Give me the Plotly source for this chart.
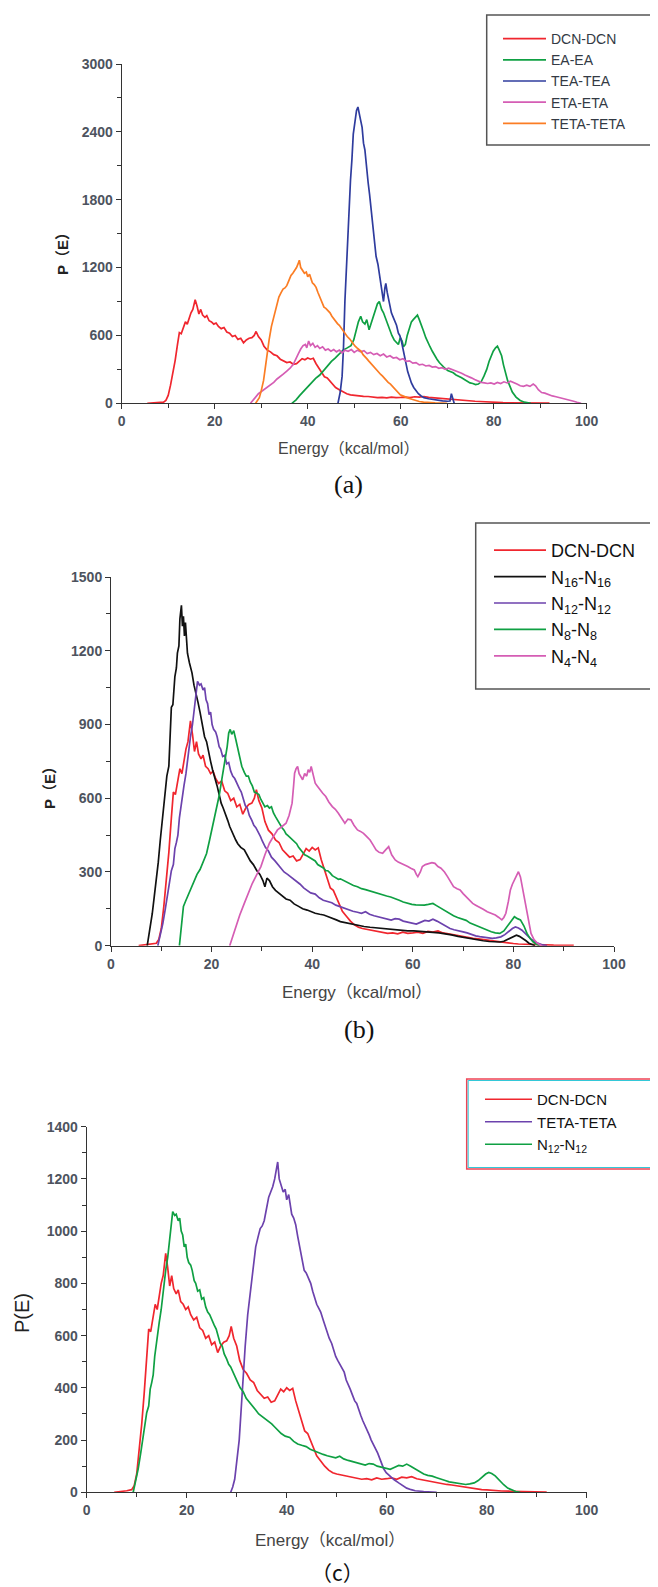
import plotly.graph_objects as go

# The page body keeps its default 8px margin, so the figure is placed at (8, 8)
OFF = 8
FW, FH = 658 - OFF, 1587 - OFF
def px(x): return (x - OFF) / FW
def py(y): return 1 - (y - OFF) / FH

SANS = "Liberation Sans, Arial, Noto Sans CJK SC, sans-serif"
SERIF = "Liberation Serif, Times New Roman, Noto Serif CJK SC, serif"
CJK = "Noto Sans CJK SC, sans-serif"

# ---------------- data (Energy in kcal/mol, P(E) counts) ----------------
DCN_E = [5.5, 7.0, 8.0, 9.0, 9.5, 10.0, 10.5, 11.0, 11.5, 12.0, 12.4, 12.8, 13.2, 13.7, 14.1, 14.5, 14.9, 15.3, 15.8, 16.2,
         16.6, 17.0, 17.4, 17.9, 18.3, 18.8, 19.3, 19.8, 20.3, 20.8, 21.4, 22.0, 22.6, 23.2, 23.8, 24.4, 25.0, 25.6, 26.2, 26.8,
         27.4, 28.0, 28.5, 28.9, 29.4, 30.0, 30.6, 31.3, 32.0, 32.7, 33.4, 34.1, 34.8, 35.5, 36.2, 36.9, 37.6, 38.2, 38.8, 39.4,
         40.0, 40.6, 41.2, 41.8, 42.4, 43.0, 43.6, 44.2, 44.8, 45.4, 46.0, 46.8, 47.6, 48.4, 49.2, 50.0, 51.0, 52.0, 53.0, 54.0,
         55.0, 56.0, 57.0, 58.0, 59.0, 60.0, 61.0, 62.0, 63.0, 64.0, 65.0, 66.0, 67.0, 68.0, 69.0, 70.0, 71.0, 72.0, 73.0, 74.0,
         75.0, 76.0, 77.0, 78.0, 79.0, 80.0, 81.0, 82.0, 83.0, 85.0, 88.0, 92.0]
DCN_P = [0, 3, 6, 10, 25, 70, 160, 260, 380, 520, 625, 615, 660, 720, 700, 760, 800, 830, 915, 860,
         790, 830, 780, 760, 775, 730, 720, 700, 710, 680, 660, 670, 630, 620, 590, 600, 565, 575, 535, 560,
         575, 580, 600, 635, 590, 560, 505, 470, 455, 430, 420, 390, 375, 360, 365, 345, 350, 370, 395, 385,
         400, 390, 398, 350, 310, 270, 235, 225, 195, 165, 140, 120, 100, 85, 75, 70, 66, 62, 60, 55,
         50, 52, 48, 55, 50, 52, 55, 50, 58, 55, 60, 52, 48, 45, 40, 38, 33, 30, 28, 25,
         22, 18, 16, 13, 10, 9, 7, 6, 5, 4, 2, 1]

N12_E = [9.3, 9.8, 10.3, 10.8, 11.2, 11.6, 12.0, 12.4, 12.7, 13.0, 13.3, 13.6, 13.9, 14.2, 14.5, 14.9, 15.2, 15.5, 15.8, 16.2,
         16.6, 16.9, 17.2, 17.6, 17.9, 18.3, 18.6, 18.9, 19.2, 19.5, 19.8, 20.1, 20.4, 20.8, 21.1, 21.5, 21.8, 22.2, 22.6, 23.0,
         23.4, 23.8, 24.2, 24.6, 25.0, 25.5, 25.9, 26.3, 26.7, 27.1, 27.5, 28.0, 28.4, 28.8, 29.2, 29.7, 30.1, 30.7, 31.3, 31.9,
         32.6, 33.2, 33.8, 34.4, 35.1, 35.7, 36.4, 37.0, 37.6, 38.3, 38.9, 39.7, 40.6, 41.4, 42.2, 43.0, 43.9, 44.7, 45.6, 46.4,
         47.3, 48.1, 49.0, 49.8, 50.6, 51.4, 52.3, 53.1, 54.0, 54.8, 55.7, 56.5, 57.3, 58.1, 59.0, 59.8, 60.7, 61.5, 62.4, 63.2,
         64.0, 64.8, 65.7, 66.5, 67.4, 68.2, 69.1, 70.0, 70.8, 71.7, 72.5, 73.3, 74.1, 75.0, 75.8, 76.6, 77.5, 78.3, 79.2, 79.8,
         80.4, 81.0, 81.7, 82.5, 83.4, 84.2, 85.0, 85.8, 86.7]
N12_P = [0, 40, 90, 150, 200, 250, 305, 330, 395, 420, 450, 520, 570, 600, 650, 700, 755, 800, 850, 900,
         970, 1000, 1075, 1060, 1065, 1040, 1050, 1000, 985, 940, 950, 900, 880, 870, 850, 810, 800, 770, 775, 740,
         745, 710, 690, 680, 660, 640, 625, 600, 570, 560, 530, 510, 490, 480, 465, 445, 425, 400, 385, 360,
         345, 330, 315, 300, 290, 280, 270, 262, 250, 235, 225, 215, 210, 195, 185, 180, 175, 165, 158, 150,
         145, 140, 136, 132, 138, 128, 122, 118, 115, 110, 104, 110, 108, 100, 96, 92, 88, 95, 103, 100,
         108, 100, 90, 78, 70, 65, 62, 56, 52, 45, 40, 37, 35, 32, 30, 32, 36, 45, 62, 70,
         76, 72, 63, 45, 29, 16, 9, 3, 0]

TETA_E = [28.8, 29.2, 29.6, 30.0, 30.5, 30.9, 31.3, 31.7, 32.2, 32.6, 33.0, 33.4, 33.8, 34.3, 34.7, 35.1, 35.5, 35.9, 36.4, 36.8,
          37.2, 37.6, 37.9, 38.2, 38.5, 38.9, 39.3, 39.7, 40.0, 40.4, 40.7, 41.0, 41.4, 41.8, 42.2, 42.7, 43.1, 43.5, 43.9, 44.3,
          44.8, 45.2, 45.6, 46.0, 46.4, 46.8, 47.3, 47.7, 48.1, 48.5, 49.0, 49.4, 49.8, 50.2, 50.6, 51.1, 51.5, 51.9, 52.3, 52.7,
          53.1, 53.6, 54.0, 54.4, 54.8, 55.2, 55.7, 56.1, 56.5, 56.9, 57.3, 57.8, 58.2, 58.6, 59.0, 59.4, 59.9, 60.3, 60.7, 61.5,
          62.4, 63.2, 64.0, 64.9, 65.7, 67.4, 69.1, 70.0]
TETA_P = [0, 20, 50, 110, 200, 320, 460, 560, 680, 740, 800, 860, 940, 980, 1010, 1020, 1040, 1080, 1130, 1150,
          1170, 1200, 1230, 1265, 1200, 1170, 1150, 1160, 1120, 1140, 1090, 1065, 1050, 1025, 980, 930, 880, 850, 840, 825,
          800, 770, 745, 720, 705, 690, 660, 637, 610, 590, 570, 545, 520, 505, 490, 470, 460, 430, 415, 395,
          375, 350, 340, 315, 295, 275, 255, 240, 220, 200, 185, 170, 150, 130, 110, 90, 75, 68, 60, 48,
          36, 25, 16, 10, 6, 3, 1, 0]

TEA_E = [46.5, 47.0, 47.4, 47.7, 48.0, 48.3, 48.6, 48.9, 49.2, 49.5, 49.8, 50.2, 50.5, 50.8, 51.1, 51.4, 51.7, 52.0, 52.3, 52.6,
         53.0, 53.3, 53.7, 54.0, 54.4, 54.7, 55.1, 55.4, 55.7, 56.0, 56.3, 56.6, 56.8, 57.1, 57.4, 57.7, 58.0, 58.4, 58.7, 59.1,
         59.5, 59.8, 60.1, 60.4, 60.7, 61.1, 61.5, 61.9, 62.3, 62.8, 63.3, 63.8, 64.4, 65.0, 66.0, 67.0, 68.0, 69.0, 70.0, 70.6,
         70.9, 71.2, 71.5]
TEA_P = [0, 100, 240, 500, 900, 1200, 1500, 1750, 1970, 2150, 2380, 2500, 2590, 2620, 2570, 2500, 2440, 2300, 2240, 2100,
         1950, 1850, 1680, 1560, 1390, 1300, 1230, 1150, 1090, 980, 900, 1020, 1060, 980, 920, 850, 800, 760, 730, 690,
         620, 600, 560, 500, 420, 340, 280, 230, 180, 140, 110, 85, 65, 50, 40, 32, 28, 22, 18, 20,
         85, 40, 0]

EA_E = [36.6, 37.5, 38.3, 39.2, 40.0, 40.9, 41.7, 42.6, 43.4, 44.2, 45.1, 45.9, 46.8, 47.6, 48.5, 49.3, 49.9, 50.4, 50.9, 51.4,
        51.8, 52.3, 52.7, 53.2, 53.6, 54.1, 54.5, 55.0, 55.4, 55.9, 56.3, 56.8, 57.2, 57.7, 58.1, 58.6, 59.0, 59.5, 59.9, 60.3,
        60.6, 61.0, 61.4, 61.8, 62.3, 62.7, 63.2, 63.6, 64.0, 64.5, 64.9, 65.4, 65.8, 66.3, 66.8, 67.3, 67.8, 68.3, 68.9, 69.5,
        70.1, 70.7, 71.3, 71.9, 72.5, 73.1, 73.7, 74.3, 74.9, 75.5, 76.1, 76.7, 77.3, 77.9, 78.5, 79.0, 79.5, 79.9, 80.4, 80.8,
        81.2, 81.7, 82.1, 82.6, 83.0, 83.5, 84.0, 84.8, 85.7, 86.6, 88.0]
EA_P = [0, 30, 70, 110, 150, 185, 220, 250, 290, 330, 370, 400, 440, 470, 490, 510, 560, 650, 720, 770,
        720, 700, 740, 650, 700, 760, 820, 880, 900, 830, 800, 740, 700, 640, 600, 560, 540, 520, 580, 550,
        500, 520, 600, 660, 720, 740, 760, 780, 740, 690, 640, 580, 540, 500, 460, 420, 390, 360, 330, 310,
        290, 280, 270, 250, 240, 225, 210, 195, 180, 175, 165, 170, 190, 240, 300, 370, 420, 460, 490, 505,
        470, 420, 340, 260, 200, 150, 100, 55, 25, 10, 0]

ETA_E = [27.7, 28.3, 28.8, 29.4, 29.9, 30.6, 31.3, 32.0, 32.7, 33.4, 34.1, 34.8, 35.5, 36.2, 36.9, 37.5, 38.0, 38.5, 39.0, 39.5,
         39.8, 40.2, 40.6, 41.1, 41.6, 42.1, 42.6, 43.2, 43.8, 44.4, 45.0, 45.6, 46.2, 46.8, 47.4, 48.0, 48.7, 49.4, 50.0, 50.7,
         51.4, 52.1, 52.8, 53.5, 54.2, 54.9, 55.6, 56.3, 57.0, 57.7, 58.4, 59.1, 59.8, 60.5, 61.2, 61.9, 62.6, 63.3, 64.0, 64.7,
         65.4, 66.1, 66.8, 67.5, 68.2, 68.9, 69.6, 70.3, 71.0, 71.7, 72.4, 73.1, 73.8, 74.5, 75.2, 75.9, 76.6, 77.3, 78.0, 78.7,
         79.4, 80.1, 80.8, 81.5, 82.2, 82.9, 83.6, 84.3, 85.0, 85.7, 86.4, 87.1, 87.8, 88.5, 89.0, 89.6, 90.3, 91.0, 91.8, 92.6,
         93.4, 94.2, 95.0, 95.7, 96.5, 97.2, 97.9, 98.8]
ETA_P = [0, 30, 60, 85, 100, 120, 140, 165, 185, 215, 235, 260, 285, 310, 345, 390, 440, 480, 510, 520,
         490, 550, 510, 530, 495, 510, 485, 500, 470, 480, 460, 475, 455, 470, 445, 470, 460, 475, 450, 470,
         455, 465, 440, 450, 430, 440, 420, 435, 410, 420, 400, 405, 385, 395, 370, 375, 355, 360, 340, 345,
         330, 335, 320, 325, 310, 315, 300, 310, 300, 290, 280, 265, 250, 240, 225, 210, 195, 185, 180, 175,
         180, 170, 185, 175, 190, 180, 195, 185, 170, 155, 150, 160, 150, 170, 155, 120, 95, 90, 75, 65,
         58, 50, 45, 38, 28, 18, 9, 0]

N16_E = [7.2, 7.7, 8.2, 8.6, 9.0, 9.4, 9.8, 10.2, 10.7, 11.1, 11.5, 11.8, 12.0, 12.3, 12.7, 13.0, 13.2, 13.5, 13.7, 14.0,
         14.2, 14.4, 14.6, 14.8, 15.0, 15.2, 15.6, 16.1, 16.5, 16.9, 17.3, 17.7, 18.2, 18.6, 19.0, 19.4, 19.8, 20.2, 20.6, 21.1,
         21.5, 21.9, 22.3, 22.7, 23.2, 23.6, 24.0, 24.4, 24.8, 25.2, 25.8, 26.5, 27.1, 27.7, 28.3, 29.0, 29.6, 30.2, 30.6, 31.0,
         31.5, 32.1, 32.7, 33.3, 34.0, 34.8, 35.6, 36.4, 37.3, 38.1, 39.0, 39.8, 40.6, 41.5, 42.3, 43.2, 44.0, 44.8, 45.6, 46.5,
         47.3, 48.2, 49.0, 50.3, 51.5, 52.8, 54.0, 55.3, 56.5, 57.8, 59.0, 60.2, 61.4, 62.7, 64.0, 65.2, 66.4, 67.7, 69.0, 70.2,
         71.4, 72.7, 74.0, 75.2, 76.4, 77.3, 78.1, 79.0, 79.8, 80.6, 81.2, 81.9, 82.5, 83.1, 83.7, 84.3]
N16_P = [0, 60, 130, 200, 265, 340, 430, 510, 605, 690, 730, 850, 970, 980, 1095, 1130, 1190, 1220, 1330, 1385,
         1300, 1340, 1260, 1315, 1240, 1190, 1150, 1110, 1060, 1030, 990, 950, 900, 850, 830, 785, 750, 715, 690, 650,
         615, 580, 560, 540, 510, 485, 465, 445, 430, 415, 400, 390, 365, 345, 330, 305, 290, 265, 240, 275,
         265, 240, 225, 215, 200, 190, 185, 170, 160, 150, 145, 138, 132, 128, 125, 118, 110, 105, 98, 94,
         90, 85, 82, 78, 75, 72, 70, 66, 63, 62, 60, 60, 59, 56, 54, 52, 49, 44, 38, 33,
         29, 24, 20, 17, 15, 15, 18, 28, 37, 43, 38, 30, 20, 10, 4, 0]

N8_E = [13.6, 14.0, 14.4, 14.8, 15.2, 15.8, 16.5, 17.1, 17.7, 18.3, 19.0, 19.6, 20.2, 20.6, 21.1, 21.5, 21.9, 22.3, 22.7, 23.1,
        23.4, 23.7, 24.0, 24.4, 24.8, 25.2, 25.6, 26.0, 26.5, 26.9, 27.3, 27.7, 28.1, 28.5, 29.0, 29.4, 29.8, 30.2, 30.6, 31.1,
        31.5, 31.9, 32.3, 32.7, 33.1, 33.6, 34.0, 34.4, 34.8, 35.2, 35.6, 36.1, 36.5, 36.9, 37.3, 37.7, 38.1, 38.5, 39.0, 39.4,
        39.8, 40.2, 40.6, 41.1, 41.5, 41.9, 42.3, 42.7, 43.1, 43.6, 44.0, 44.4, 44.8, 45.2, 45.6, 46.5, 47.3, 48.2, 49.0, 49.8,
        50.6, 51.5, 52.3, 53.1, 54.0, 54.8, 55.6, 56.5, 57.3, 58.1, 59.0, 59.8, 60.6, 61.5, 62.3, 63.1, 64.0, 64.8, 65.6, 66.5,
        67.3, 68.1, 68.9, 69.8, 70.6, 71.4, 72.3, 73.1, 73.9, 74.8, 75.6, 76.4, 77.3, 78.1, 79.0, 79.6, 80.2, 80.8, 81.4, 82.1,
        82.7, 83.3, 83.9, 84.5, 85.2]
N8_P = [0, 80, 160, 180, 200, 230, 265, 290, 310, 340, 375, 430, 485, 525, 565, 610, 660, 705, 755, 810,
        865, 880, 860, 875, 840, 800, 760, 730, 705, 690, 690, 665, 650, 625, 620, 615, 595, 580, 565, 570,
        560, 565, 540, 525, 510, 490, 480, 470, 455, 448, 440, 430, 425, 415, 400, 390, 380, 370, 365, 360,
        355, 350, 345, 330, 325, 320, 315, 305, 305, 295, 285, 280, 275, 270, 272, 262, 253, 245, 240, 232,
        228, 222, 218, 212, 206, 202, 198, 192, 185, 178, 172, 168, 166, 165, 165, 168, 172, 162, 152, 140,
        132, 122, 115, 108, 103, 92, 84, 76, 70, 62, 57, 52, 50, 60, 84, 100, 118, 110, 105, 80,
        50, 30, 16, 7, 0]

N4_E = [23.6, 24.2, 24.8, 25.6, 26.5, 27.3, 28.1, 29.0, 29.8, 30.6, 31.5, 32.3, 33.1, 34.0, 34.8, 35.4, 36.0, 36.3, 36.5, 36.8,
        37.1, 37.4, 37.7, 38.1, 38.5, 38.9, 39.2, 39.5, 39.8, 40.2, 40.6, 41.0, 41.5, 42.1, 42.7, 43.3, 44.0, 44.6, 45.2, 45.8,
        46.5, 47.1, 47.7, 48.3, 49.0, 49.6, 50.2, 50.8, 51.5, 52.1, 52.7, 53.3, 54.0, 54.6, 55.2, 55.8, 56.5, 57.1, 57.7, 58.3,
        59.0, 59.6, 60.3, 60.7, 61.0, 61.5, 61.9, 62.5, 63.1, 63.8, 64.4, 65.0, 65.6, 66.3, 66.9, 67.5, 68.1, 68.8, 69.4, 70.0,
        70.6, 71.3, 71.9, 72.5, 73.1, 74.0, 74.8, 75.6, 76.4, 77.1, 77.7, 78.1, 78.5, 79.0, 79.4, 79.8, 80.2, 80.6, 81.0, 81.4,
        81.9, 82.3, 82.7, 83.1, 83.5, 84.1, 84.8, 85.6]
N4_P = [0, 40, 77, 125, 172, 215, 254, 290, 322, 370, 417, 445, 471, 485, 498, 530, 580, 650, 702, 720,
        729, 700, 690, 675, 700, 690, 716, 705, 729, 690, 661, 650, 634, 620, 607, 585, 566, 555, 539, 520,
        498, 515, 512, 490, 471, 465, 457, 445, 430, 410, 390, 380, 376, 390, 403, 370, 349, 340, 335, 330,
        322, 315, 308, 290, 281, 300, 322, 330, 335, 338, 335, 322, 315, 300, 281, 260, 240, 232, 227, 212,
        200, 185, 172, 165, 159, 148, 138, 132, 125, 115, 105, 115, 132, 180, 227, 250, 267, 285, 301, 280,
        227, 180, 132, 90, 50, 25, 10, 0]

NAMES_A = ["DCN-DCN", "EA-EA", "TEA-TEA", "ETA-ETA", "TETA-TETA"]
NAMES_B = ["DCN-DCN", "N<sub>16</sub>-N<sub>16</sub>", "N<sub>12</sub>-N<sub>12</sub>",
           "N<sub>8</sub>-N<sub>8</sub>", "N<sub>4</sub>-N<sub>4</sub>"]
NAMES_C = ["DCN-DCN", "TETA-TETA", "N<sub>12</sub>-N<sub>12</sub>"]

XTICKS = [0, 20, 40, 60, 80, 100]
YTICKS_A = [0, 600, 1200, 1800, 2400, 3000]
YTICKS_B = [0, 300, 600, 900, 1200, 1500]
YTICKS_C = [0, 200, 400, 600, 800, 1000, 1200, 1400]

RED = "#f0262e"
GREEN = "#0fa043"
BLUE = "#2f3c9e"
PINK = "#d55db4"
ORANGE = "#fb7d24"
BLACK = "#111111"
PURPLE = "#6c42ad"

fig = go.Figure()

def add(x, y, name, color, xa, ya, leg):
    fig.add_trace(go.Scatter(x=x, y=y, mode="lines", name=name,
                             line=dict(color=color, width=1.7),
                             xaxis=xa, yaxis=ya, legend=leg))

# panel (a)
add(DCN_E, DCN_P, NAMES_A[0], RED, "x", "y", "legend")
add(EA_E, EA_P, NAMES_A[1], GREEN, "x", "y", "legend")
add(TEA_E, TEA_P, NAMES_A[2], BLUE, "x", "y", "legend")
add(ETA_E, ETA_P, NAMES_A[3], PINK, "x", "y", "legend")
add(TETA_E, TETA_P, NAMES_A[4], ORANGE, "x", "y", "legend")
# panel (b)
add(DCN_E, DCN_P, NAMES_B[0], RED, "x2", "y2", "legend2")
add(N16_E, N16_P, NAMES_B[1], BLACK, "x2", "y2", "legend2")
add(N12_E, N12_P, NAMES_B[2], PURPLE, "x2", "y2", "legend2")
add(N8_E, N8_P, NAMES_B[3], GREEN, "x2", "y2", "legend2")
add(N4_E, N4_P, NAMES_B[4], PINK, "x2", "y2", "legend2")
# panel (c)
add(DCN_E, DCN_P, NAMES_C[0], RED, "x3", "y3", "legend3")
add(TETA_E, TETA_P, NAMES_C[1], PURPLE, "x3", "y3", "legend3")
add(N12_E, N12_P, NAMES_C[2], GREEN, "x3", "y3", "legend3")

AX = "#333333"
TICKFONT = dict(family=SANS, size=14, color="#4d535e", weight="bold")

def xaxis(x0, x1, anchor):
    return dict(domain=[px(x0), px(x1)], anchor=anchor, range=[0, 100],
                tickmode="array", tickvals=XTICKS, ticktext=[str(v) for v in XTICKS],
                ticks="outside", ticklen=5, tickwidth=1, tickcolor=AX,
                minor=dict(tickmode="array", tickvals=[10, 30, 50, 70, 90], ticks="outside",
                           ticklen=4, tickcolor=AX, showgrid=False),
                showline=True, linecolor=AX, linewidth=1, showgrid=False, zeroline=False,
                tickfont=TICKFONT, fixedrange=True, automargin=False)

def yaxis(y_top, y_bot, anchor, ticks, step):
    minors = [t + step / 2 for t in ticks[:-1]]
    return dict(domain=[py(y_bot), py(y_top)], anchor=anchor, range=[0, ticks[-1]],
                tickmode="array", tickvals=ticks, ticktext=[str(v) for v in ticks],
                ticks="outside", ticklen=5, tickwidth=1, tickcolor=AX,
                minor=dict(tickmode="array", tickvals=minors, ticks="outside",
                           ticklen=4, tickcolor=AX, showgrid=False),
                showline=True, linecolor=AX, linewidth=1, showgrid=False, zeroline=False,
                tickfont=TICKFONT, fixedrange=True, automargin=False)

legend_common = dict(bgcolor="rgba(0,0,0,0)", borderwidth=0, xanchor="left", yanchor="top",
                     tracegroupgap=0, itemclick=False)

fig.update_layout(
    width=FW, height=FH, margin=dict(l=0, r=0, t=0, b=0, autoexpand=False),
    paper_bgcolor="white", plot_bgcolor="white", showlegend=True,
    xaxis=xaxis(121.7, 586.7, "y"),
    yaxis=yaxis(64, 403.3, "x", YTICKS_A, 600),
    xaxis2=xaxis(111, 614, "y2"),
    yaxis2=yaxis(577, 945.7, "x2", YTICKS_B, 300),
    xaxis3=xaxis(86.7, 586.7, "y3"),
    yaxis3=yaxis(1126.7, 1492.3, "x3", YTICKS_C, 200),
    legend=dict(x=px(498), y=py(23), itemwidth=43,
                font=dict(family=SANS, size=14, color="#333a44"), **legend_common),
    legend2=dict(x=px(489), y=py(532), itemwidth=52,
                 font=dict(family=SANS, size=18, color="#111"), **legend_common),
    legend3=dict(x=px(480), y=py(1083), itemwidth=47,
                 font=dict(family=SANS, size=15, color="#111"), **legend_common),
)

# legend frames
fig.add_shape(type="rect", xref="paper", yref="paper", x0=px(486.7), x1=px(662), y0=py(145), y1=py(15),
              line=dict(color="#555", width=1.5))
fig.add_shape(type="rect", xref="paper", yref="paper", x0=px(475.7), x1=px(662), y0=py(689), y1=py(523),
              line=dict(color="#555", width=1.5))
fig.add_shape(type="rect", xref="paper", yref="paper", x0=px(466.7), x1=px(653), y0=py(1169), y1=py(1079),
              line=dict(color="#ee4455", width=1.5))
fig.add_shape(type="rect", xref="paper", yref="paper", x0=px(468.2), x1=px(651.5), y0=py(1167.5), y1=py(1080.5),
              line=dict(color="#33c8d8", width=1))

def note(x, y, text, size, family=SANS, color="#444", bold=False, angle=0):
    fig.add_annotation(xref="paper", yref="paper", x=px(x), y=py(y), text=text, showarrow=False,
                       xanchor="center", yanchor="middle", textangle=angle,
                       font=dict(family=family, size=size, color=color, weight="bold" if bold else "normal"))

# axis titles
note(348, 448, "Energy（kcal/mol）", 16)
note(357, 993, "Energy（kcal/mol）", 17)
note(330, 1540, "Energy（kcal/mol）", 17)
note(62, 250, "P（E）", 15, color="#222", bold=True, angle=-90)
note(50, 784, "P（E）", 15, color="#222", bold=True, angle=-90)
note(22, 1313, "P(E)", 20, color="#222", angle=-90)

# panel labels
note(348, 485, "(a)", 26, family=SERIF, color="#111")
note(359, 1029, "(b)", 26, family=SERIF, color="#111")
note(337, 1572, "（c）", 21, family=CJK, color="#111")

fig.write_html("out.html")
